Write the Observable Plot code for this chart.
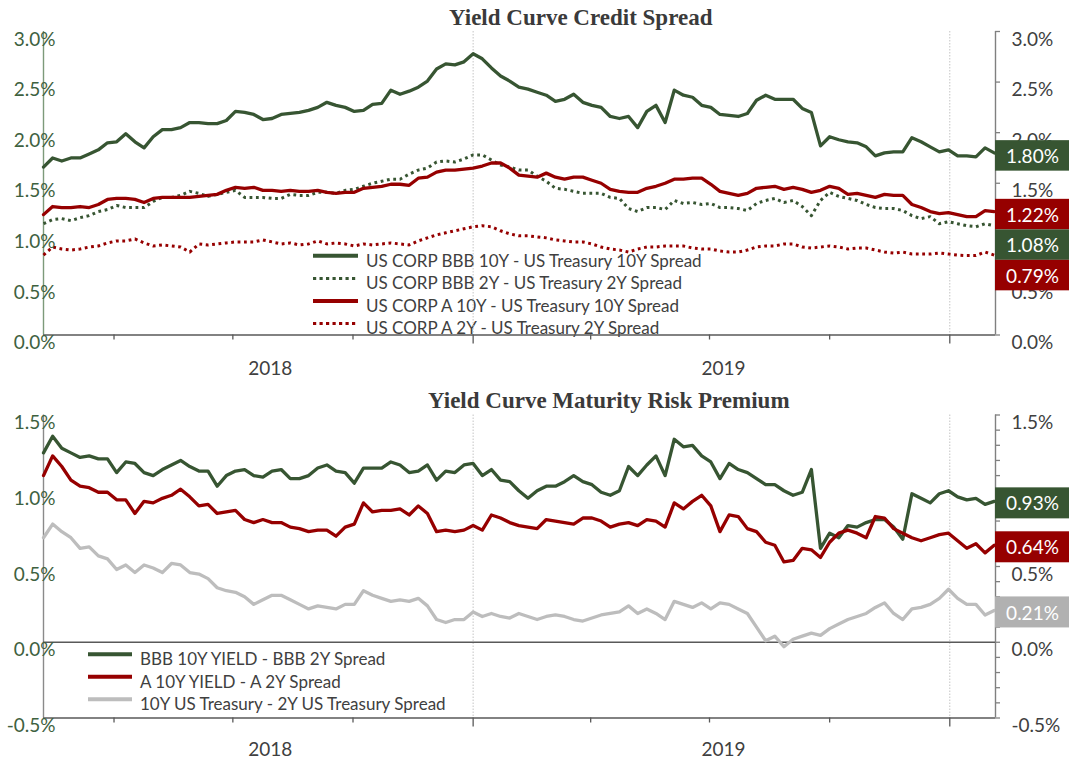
<!DOCTYPE html>
<html>
<head>
<meta charset="utf-8">
<script src="https://cdn.jsdelivr.net/npm/d3@7"></script>
<script src="https://cdn.jsdelivr.net/npm/@observablehq/plot@0.6"></script>
<style>
  html, body { margin: 0; padding: 0; background: #ffffff; }
  #page { position: relative; width: 1070px; height: 760px; overflow: hidden; background: #fff; }
  #top, #bottom { position: absolute; left: 0; }
  #top { top: 0; }
  #bottom { top: 380px; }
  svg { display: block; }
</style>
</head>
<body>
<div id="page"><div id="top"></div><div id="bottom"></div></div>
<script>
// ---------------- data (weekly observations, % points) ----------------
const startDate = new Date(Date.UTC(2018, 1, 6));
const endDate = new Date(Date.UTC(2020, 1, 5));
const weekCount = 105;
const dates = d3.range(weekCount).map(k => d3.utcDay.offset(startDate, 7 * k));

// Top panel: Yield Curve Credit Spread
const bbb10ySpread = [1.66,1.75,1.72,1.75,1.75,1.79,1.83,1.90,1.91,1.99,
  1.91,1.85,1.96,2.03,2.03,2.05,2.10,2.10,2.09,2.09,
  2.12,2.21,2.20,2.18,2.13,2.14,2.18,2.19,2.20,2.22,
  2.25,2.30,2.27,2.25,2.21,2.22,2.28,2.29,2.42,2.38,
  2.41,2.45,2.51,2.63,2.68,2.67,2.70,2.78,2.73,2.64,
  2.56,2.51,2.45,2.43,2.40,2.37,2.31,2.33,2.38,2.30,
  2.27,2.25,2.16,2.14,2.16,2.05,2.21,2.27,2.10,2.42,
  2.37,2.35,2.27,2.25,2.18,2.17,2.16,2.19,2.32,2.37,
  2.33,2.33,2.33,2.24,2.20,1.87,1.96,1.93,1.91,1.90,
  1.86,1.77,1.80,1.81,1.81,1.95,1.91,1.86,1.81,1.83,
  1.77,1.77,1.76,1.85,1.80];
const bbb2ySpread = [1.10,1.14,1.15,1.13,1.16,1.18,1.22,1.24,1.28,1.26,
  1.26,1.26,1.32,1.36,1.36,1.38,1.42,1.40,1.37,1.39,
  1.41,1.43,1.36,1.36,1.36,1.35,1.35,1.39,1.38,1.38,
  1.41,1.41,1.40,1.43,1.44,1.47,1.50,1.52,1.54,1.54,
  1.59,1.63,1.65,1.71,1.72,1.71,1.74,1.78,1.78,1.73,
  1.68,1.66,1.63,1.63,1.57,1.52,1.45,1.44,1.42,1.40,
  1.40,1.40,1.36,1.35,1.25,1.22,1.26,1.26,1.24,1.33,
  1.30,1.31,1.29,1.30,1.26,1.26,1.25,1.23,1.30,1.33,
  1.35,1.31,1.33,1.27,1.18,1.33,1.41,1.37,1.35,1.33,
  1.29,1.26,1.25,1.25,1.23,1.18,1.15,1.17,1.10,1.12,
  1.10,1.08,1.07,1.10,1.08];
const a10ySpread = [1.19,1.27,1.26,1.26,1.27,1.26,1.29,1.34,1.35,1.35,
  1.34,1.31,1.35,1.36,1.36,1.36,1.36,1.37,1.38,1.39,
  1.43,1.46,1.45,1.46,1.43,1.43,1.42,1.43,1.42,1.42,
  1.43,1.41,1.40,1.41,1.41,1.45,1.46,1.47,1.49,1.49,
  1.48,1.55,1.56,1.61,1.63,1.63,1.64,1.65,1.67,1.70,
  1.70,1.65,1.58,1.57,1.56,1.60,1.56,1.54,1.56,1.56,
  1.53,1.50,1.44,1.42,1.41,1.41,1.45,1.47,1.50,1.54,
  1.54,1.55,1.55,1.49,1.42,1.40,1.38,1.40,1.45,1.46,
  1.47,1.44,1.46,1.44,1.41,1.43,1.47,1.45,1.39,1.40,
  1.38,1.36,1.39,1.38,1.38,1.29,1.26,1.22,1.20,1.21,
  1.19,1.17,1.17,1.23,1.22];
const a2ySpread = [0.79,0.87,0.85,0.84,0.85,0.87,0.88,0.91,0.93,0.93,
  0.95,0.91,0.88,0.89,0.88,0.87,0.82,0.90,0.89,0.90,
  0.91,0.92,0.92,0.92,0.94,0.92,0.90,0.91,0.89,0.90,
  0.93,0.90,0.91,0.90,0.88,0.90,0.89,0.90,0.91,0.90,
  0.89,0.93,0.96,0.99,1.01,1.03,1.05,1.07,1.08,1.07,
  1.03,1.00,0.98,0.98,0.97,0.96,0.94,0.93,0.92,0.92,
  0.90,0.87,0.85,0.84,0.82,0.85,0.87,0.87,0.88,0.88,
  0.88,0.86,0.85,0.85,0.83,0.82,0.82,0.84,0.87,0.88,
  0.88,0.90,0.90,0.87,0.86,0.87,0.88,0.87,0.85,0.86,
  0.86,0.84,0.82,0.81,0.82,0.80,0.80,0.80,0.81,0.80,
  0.79,0.785,0.785,0.82,0.79];

// Bottom panel: Yield Curve Maturity Risk Premium
const bbbCurve = [1.25,1.36,1.28,1.25,1.22,1.23,1.21,1.21,1.12,1.19,
  1.18,1.12,1.10,1.14,1.17,1.20,1.16,1.13,1.13,1.03,
  1.10,1.13,1.14,1.10,1.09,1.13,1.14,1.08,1.08,1.10,
  1.15,1.17,1.13,1.12,1.05,1.15,1.15,1.15,1.19,1.17,
  1.12,1.13,1.17,1.07,1.13,1.12,1.17,1.18,1.10,1.14,
  1.07,1.06,1.00,0.95,1.00,1.03,1.03,1.06,1.10,1.06,
  1.04,0.99,0.97,1.00,1.16,1.10,1.17,1.23,1.10,1.34,
  1.29,1.30,1.23,1.19,1.08,1.18,1.14,1.12,1.08,1.04,
  1.04,1.00,0.97,0.99,1.14,0.62,0.72,0.69,0.77,0.76,
  0.79,0.81,0.81,0.76,0.68,0.98,0.95,0.92,0.98,1.00,
  0.96,0.94,0.95,0.91,0.93];
const aCurve = [1.10,1.23,1.16,1.07,1.03,1.02,0.99,0.99,0.94,0.94,
  0.85,0.93,0.92,0.95,0.97,1.01,0.96,0.90,0.91,0.85,
  0.86,0.87,0.81,0.79,0.81,0.79,0.79,0.76,0.75,0.73,
  0.74,0.74,0.70,0.76,0.78,0.92,0.86,0.87,0.87,0.88,
  0.84,0.90,0.85,0.73,0.74,0.73,0.74,0.77,0.74,0.84,
  0.82,0.79,0.77,0.76,0.75,0.81,0.80,0.79,0.78,0.82,
  0.82,0.80,0.76,0.78,0.79,0.77,0.81,0.80,0.76,0.92,
  0.88,0.93,0.97,0.90,0.73,0.84,0.83,0.75,0.73,0.66,
  0.64,0.53,0.54,0.62,0.61,0.56,0.66,0.72,0.74,0.72,
  0.69,0.83,0.82,0.75,0.72,0.69,0.67,0.69,0.71,0.72,
  0.67,0.62,0.65,0.59,0.64];
const treasuryCurve = [0.69,0.78,0.73,0.69,0.62,0.63,0.57,0.55,0.48,0.51,
  0.46,0.51,0.49,0.46,0.52,0.51,0.46,0.45,0.42,0.36,
  0.34,0.33,0.30,0.25,0.28,0.31,0.31,0.28,0.25,0.22,
  0.24,0.23,0.22,0.25,0.25,0.34,0.31,0.29,0.27,0.28,
  0.27,0.29,0.24,0.15,0.13,0.15,0.15,0.20,0.17,0.19,
  0.17,0.16,0.19,0.17,0.15,0.17,0.18,0.17,0.15,0.14,
  0.16,0.18,0.19,0.20,0.24,0.19,0.22,0.19,0.15,0.27,
  0.25,0.23,0.26,0.22,0.26,0.25,0.22,0.19,0.10,0.01,
  0.04,-0.03,0.02,0.04,0.06,0.045,0.09,0.12,0.15,0.17,
  0.19,0.23,0.26,0.19,0.15,0.22,0.23,0.25,0.29,0.35,
  0.29,0.25,0.25,0.18,0.21];

// axis ticks / labels
const topYTicks = [0, 0.5, 1.0, 1.5, 2.0, 2.5, 3.0];
const botYTicks = [-0.5, 0, 0.5, 1.0, 1.5];
const botMinorTicks = [-0.5,-0.4,-0.3,-0.2,-0.1,0,0.1,0.2,0.3,0.4,0.5,0.6,0.7,0.8,0.9,1.0,1.1,1.2,1.3,1.4,1.5];
const quarterTicks = ["2018-04-01","2018-07-01","2018-10-01","2019-04-01","2019-07-01","2019-10-01"].map(s => new Date(s));
const yearTicks = ["2019-01-01","2020-01-01"].map(s => new Date(s));
const yearLabels = ["2018", "2019"];

// ---------------- styling ----------------
const GREEN = "#375532", RED = "#960000", GREY = "#bdbdbd", GREYBOX = "#b1b1b1";
const LEFTLBL = "#3e6140", DARK = "#404040", AXIS = "#595959";
const W = 1070, H = 380, ML = 43, MR = 75;
const LABEL_SHIFT = 8;
const pxPerDay = (W - ML - MR) / ((endDate - startDate) / 864e5);
const addPx = (d, px) => new Date(+d + px / pxPerDay * 864e5);
const fmt1 = d => d.toFixed(1) + "%";

const yearSeg = [
  {label: yearLabels[0], date: new Date((+startDate + +yearTicks[0]) / 2)},
  {label: yearLabels[1], date: new Date((+yearTicks[0] + +yearTicks[1]) / 2)}
];

function rowsOf(values) { return dates.map((date, i) => ({date, v: values[i]})); }

// end-of-series value boxes, pushed apart so that they do not overlap
function endBoxes(series, unitPx, offsetPx, boxPx) {
  const items = series.map(s => ({value: s.values[s.values.length - 1], color: s.box || s.color}))
    .sort((a, b) => b.value - a.value);
  let prev = Infinity;
  for (const it of items) {
    let c = it.value - offsetPx / unitPx;
    if (c > prev - boxPx / unitPx) c = prev - boxPx / unitPx;
    it.c = c; it.y1 = c - boxPx / 2 / unitPx; it.y2 = c + boxPx / 2 / unitPx;
    prev = c;
  }
  return items;
}
// right-hand tick labels that are completely hidden behind a value box are left out
function visibleRight(ticks, boxes, unitPx, boxPx) {
  return ticks.filter(t => {
    const lc = t - LABEL_SHIFT / unitPx;
    return !boxes.some(b => Math.abs(lc - b.c) < (boxPx / 2 - 8) / unitPx);
  });
}

function lineMarks(series) {
  return series.map(s => Plot.line(rowsOf(s.values), {
    x: "date", y: "v", stroke: s.color,
    strokeWidth: s.dash ? 3 : 3.3,
    strokeDasharray: s.dash || null,
    strokeLinejoin: "round",
    strokeLinecap: s.dash ? "butt" : "round"
  }));
}

function addLegend(svg, series, lx, len, tx, rows, textShift, fontSize) {
  const g = d3.select(svg).insert("g", ":first-child").attr("class", "legend").attr("text-anchor", "start");
  series.forEach((s, i) => {
    g.append("line").attr("x1", lx).attr("x2", lx + len).attr("y1", rows[i]).attr("y2", rows[i])
      .attr("stroke", s.color).attr("stroke-width", s.dash ? 3.2 : 4)
      .attr("stroke-dasharray", s.dash ? "3.2,3.3" : null);
    g.append("text").attr("x", tx).attr("y", rows[i] + textShift).attr("dy", "0.35em")
      .attr("text-anchor", "start")
      .attr("fill", DARK).attr("font-family", "Lato, sans-serif").attr("font-size", fontSize)
      .text(s.name);
  });
}

function addTitle(svg, text, x, baseline) {
  d3.select(svg).append("text").attr("x", x).attr("y", baseline)
    .attr("text-anchor", "start")
    .attr("font-family", "'Liberation Serif', 'DejaVu Serif', serif").attr("font-weight", "bold")
    .attr("font-size", 23).attr("fill", "#3a3a3a").text(text);
}

// ---------------- top panel ----------------
const topSeries = [
  {name: "US CORP BBB 10Y - US Treasury 10Y Spread", values: bbb10ySpread, color: GREEN, dash: null},
  {name: "US CORP BBB 2Y - US Treasury 2Y Spread", values: bbb2ySpread, color: GREEN, dash: "2.8,3.6"},
  {name: "US CORP A 10Y - US Treasury 10Y Spread", values: a10ySpread, color: RED, dash: null},
  {name: "US CORP A 2Y - US Treasury 2Y Spread", values: a2ySpread, color: RED, dash: "2.8,3.6"}
];
const topMT = 31, topMB = 45.5;
const topUnit = (H - topMT - topMB) / 3;
const topBoxes = endBoxes(topSeries, topUnit, 3, 30.5);
const topRight = visibleRight(topYTicks, topBoxes, topUnit, 30.5);

const topPlot = Plot.plot({
  width: W, height: H, marginLeft: ML, marginRight: MR, marginTop: topMT, marginBottom: topMB,
  x: {type: "utc", domain: [startDate, endDate], axis: null},
  y: {domain: [0, 3], axis: null},
  color: {type: "identity"},
  style: {fontFamily: "Lato, sans-serif", background: "transparent", overflow: "visible"},
  marks: [
    Plot.ruleX(yearTicks, {stroke: "#c4c4c4", strokeDasharray: "1.5,1.5", strokeWidth: 1}),
    Plot.ruleX([startDate], {stroke: "#7d9a7a", strokeWidth: 1.4}),
    Plot.ruleX([endDate], {stroke: "#808080", strokeWidth: 1.4}),
    Plot.ruleY(topYTicks, {x1: () => endDate, x2: () => addPx(endDate, 5), stroke: "#808080", strokeWidth: 1.3}),
    ...lineMarks(topSeries),
    Plot.ruleY([0], {stroke: AXIS, strokeWidth: 1.4}),
    Plot.ruleX(quarterTicks, {y1: 0, y2: -5 / topUnit, stroke: AXIS, strokeWidth: 1.3}),
    Plot.ruleX(yearTicks, {y1: 0, y2: -9 / topUnit, stroke: AXIS, strokeWidth: 1.3}),
    Plot.text(topYTicks, {x: () => startDate, y: d => d, text: fmt1, textAnchor: "end", dx: 12, dy: LABEL_SHIFT, fill: LEFTLBL, fontSize: 19}),
    Plot.text(topRight, {x: () => endDate, y: d => d, text: fmt1, textAnchor: "start", dx: 16, dy: LABEL_SHIFT, fill: DARK, fontSize: 19}),
    Plot.text(yearSeg, {x: "date", y: () => 0, text: "label", dx: 12, dy: 34, fill: DARK, fontSize: 19}),
    Plot.rect(topBoxes, {x1: () => endDate, x2: () => addPx(endDate, 74), y1: "y1", y2: "y2", fill: "color"}),
    Plot.text(topBoxes, {x: () => endDate, y: "c", text: d => d.value.toFixed(2) + "%", dx: 37, dy: 1, fill: "#ffffff", fontSize: 19})
  ]
});
addLegend(topPlot, topSeries, 313, 45, 366, [255.7, 278.5, 301, 323.5], 5, 17);
addTitle(topPlot, "Yield Curve Credit Spread", 449, 24.8);
document.getElementById("top").appendChild(topPlot);

// ---------------- bottom panel ----------------
const botSeries = [
  {name: "BBB 10Y YIELD - BBB 2Y Spread", values: bbbCurve, color: GREEN, dash: null},
  {name: "A 10Y YIELD - A 2Y Spread", values: aCurve, color: RED, dash: null},
  {name: "10Y US Treasury - 2Y US Treasury Spread", values: treasuryCurve, color: GREY, box: GREYBOX, dash: null}
];
const botMT = 34.5, botMB = 42.5;
const botUnit = (H - botMT - botMB) / 2;
const botBoxes = endBoxes(botSeries, botUnit, 2, 31);
const botRight = visibleRight(botYTicks, botBoxes, botUnit, 31);

const botPlot = Plot.plot({
  width: W, height: H, marginLeft: ML, marginRight: MR, marginTop: botMT, marginBottom: botMB,
  x: {type: "utc", domain: [startDate, endDate], axis: null},
  y: {domain: [-0.5, 1.5], axis: null},
  color: {type: "identity"},
  style: {fontFamily: "Lato, sans-serif", background: "transparent", overflow: "visible"},
  marks: [
    Plot.ruleX(yearTicks, {stroke: "#c4c4c4", strokeDasharray: "1.5,1.5", strokeWidth: 1}),
    Plot.ruleX([startDate], {stroke: "#8a8a8a", strokeWidth: 1.4}),
    Plot.ruleX([endDate], {stroke: "#808080", strokeWidth: 1.4}),
    Plot.ruleY(botMinorTicks, {x1: () => endDate, x2: () => addPx(endDate, 5), stroke: "#808080", strokeWidth: 1.3}),
    Plot.ruleY([0], {stroke: AXIS, strokeWidth: 1.4}),
    ...lineMarks(botSeries),
    Plot.ruleY([-0.5], {stroke: AXIS, strokeWidth: 1.4}),
    Plot.ruleX(quarterTicks, {y1: -0.5, y2: -0.5 - 5 / botUnit, stroke: AXIS, strokeWidth: 1.3}),
    Plot.ruleX(yearTicks, {y1: -0.5, y2: -0.5 - 9 / botUnit, stroke: AXIS, strokeWidth: 1.3}),
    Plot.text(botYTicks, {x: () => startDate, y: d => d, text: fmt1, textAnchor: "end", dx: 12, dy: LABEL_SHIFT, fill: LEFTLBL, fontSize: 19}),
    Plot.text(botRight, {x: () => endDate, y: d => d, text: fmt1, textAnchor: "start", dx: 16, dy: LABEL_SHIFT, fill: DARK, fontSize: 19}),
    Plot.text(yearSeg, {x: "date", y: () => -0.5, text: "label", dx: 12, dy: 32, fill: DARK, fontSize: 19}),
    Plot.rect(botBoxes, {x1: () => endDate, x2: () => addPx(endDate, 74), y1: "y1", y2: "y2", fill: "color"}),
    Plot.text(botBoxes, {x: () => endDate, y: "c", text: d => d.value.toFixed(2) + "%", dx: 37, dy: 1, fill: "#ffffff", fontSize: 19})
  ]
});
addLegend(botPlot, botSeries, 88, 44, 140, [274.3, 296.7, 319.3], 5, 17);
addTitle(botPlot, "Yield Curve Maturity Risk Premium", 428, 28.4);
document.getElementById("bottom").appendChild(botPlot);
</script>
</body>
</html>
